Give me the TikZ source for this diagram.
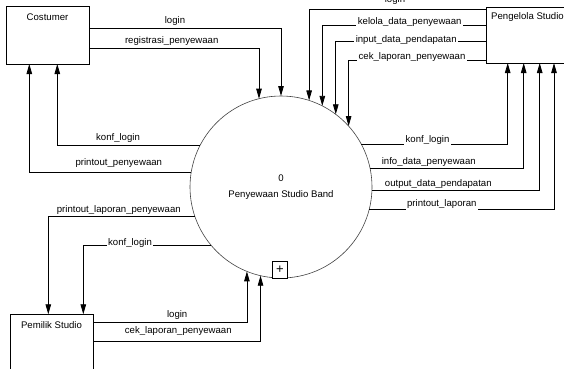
\documentclass[tikz,border=0pt]{standalone}
\usepackage{fontspec}
\setmainfont{Liberation Sans}
\usetikzlibrary{arrows.meta}
\tikzset{
  flow/.style={draw=black, line width=0.8pt, -{Triangle[length=10pt,width=5.5pt]}},
  entity/.style={draw=black, line width=0.8pt, minimum width=83pt, minimum height=58pt, inner sep=0pt, outer sep=0pt},
  flowlbl/.style={anchor=base, inner xsep=1.5pt, inner ysep=0pt, font=\fontsize{9.6}{11}\selectfont},
  cutlbl/.style={flowlbl, fill=white, inner ysep=2.5pt},
}
\begin{document}
\begin{tikzpicture}[x=1pt,y=1pt]
        \useasboundingbox (0,0) rectangle (564,-368);
        \node[circle, draw=black!75, line width=0.6pt, minimum size=182pt, inner sep=0pt, outer sep=0pt,
              align=center, font=\fontsize{9.6}{16}\selectfont] (proc) at (281,-187) {0\\Penyewaan Studio Band};
        \node[draw=black, line width=0.6pt, fill=white, minimum width=14.5pt, minimum height=17pt, inner sep=0pt,
              font=\fontsize{13}{13}\selectfont] (plus) at (280,-269.5) {+};
        \node[entity] (cost) at (47.5,-35) {};
        \node[entity, minimum height=56pt] (pgl) at (527.5,-35) {};
        \node[entity] (pml) at (51.5,-343.3) {};
        \node[flowlbl] (costlbl) at ([yshift=-14.7pt]cost.north) {Costumer};
        \node[flowlbl] (pgllbl) at ([yshift=-12.5pt]pgl.north) {Pengelola Studio};
        \node[flowlbl] (pmllbl) at ([yshift=-14pt]pml.north) {Pemilik Studio};
        % costumer
        \draw[flow] ([yshift=-22.3pt]cost.north east) -| (proc.north);
        \draw[flow] ([yshift=-42.3pt]cost.north east) -| (proc.104);
        \draw[flow] (proc.153) -| ([xshift=9.8pt]cost.south);
        \draw[flow] (proc.171) -| ([xshift=-18.2pt]cost.south);
        % pengelola studio
        \draw[flow] ([yshift=-2.3pt]pgl.north west) -| (proc.72);
        \draw[flow] ([yshift=-18.7pt]pgl.north west) -| (proc.63);
        \draw[flow] ([yshift=-34.7pt]pgl.north west) -| (proc.53);
        \draw[flow] ([yshift=-53pt]pgl.north west) -| (proc.42);
        \draw[flow] (proc.28) -| ([xshift=-19.8pt]pgl.south);
        \draw[flow] (proc.12) -| ([xshift=-3.8pt]pgl.south);
        \draw[flow] (proc.358) -| ([xshift=12.2pt]pgl.south);
        \draw[flow] (proc.346) -| ([xshift=26.5pt]pgl.south);
        % pemilik studio
        \draw[flow] (proc.199) -| ([xshift=-3.2pt]pml.north);
        \draw[flow] (proc.220) -| ([xshift=31.8pt]pml.north);
        \draw[flow] ([yshift=-8pt]pml.north east) -| (proc.248);
        \draw[flow] ([yshift=-27.4pt]pml.north east) -| (proc.257);
        \node[flowlbl] (l1) at (175,-23.3) {login};
        \node[flowlbl] (l2) at (171.7,-43.5) {registrasi\_penyewaan};
        \node[flowlbl] (l3) at (118,-140.5) {konf\_login};
        \node[flowlbl] (l4) at (118.8,-165) {printout\_penyewaan};
        \node[flowlbl] (l5) at (395,-2) {login};
        \node[cutlbl] (l6) at (409.7,-24.5) {kelola\_data\_penyewaan};
        \node[cutlbl] (l7) at (406.2,-42) {input\_data\_pendapatan};
        \node[cutlbl] (l8) at (412,-59) {cek\_laporan\_penyewaan};
        \node[cutlbl] (l9) at (427.5,-142) {konf\_login};
        \node[flowlbl] (l10) at (428.8,-164) {info\_data\_penyewaan};
        \node[flowlbl] (l11) at (438.3,-186) {output\_data\_pendapatan};
        \node[cutlbl] (l12) at (441.8,-206) {printout\_laporan};
        \node[flowlbl] (l13) at (118.8,-212.7) {printout\_laporan\_penyewaan};
        \node[cutlbl] (l14) at (130,-245) {konf\_login};
        \node[flowlbl] (l15) at (177.2,-317.5) {login};
        \node[flowlbl] (l16) at (178.3,-333.5) {cek\_laporan\_penyewaan};
    \end{tikzpicture}
\end{document}
